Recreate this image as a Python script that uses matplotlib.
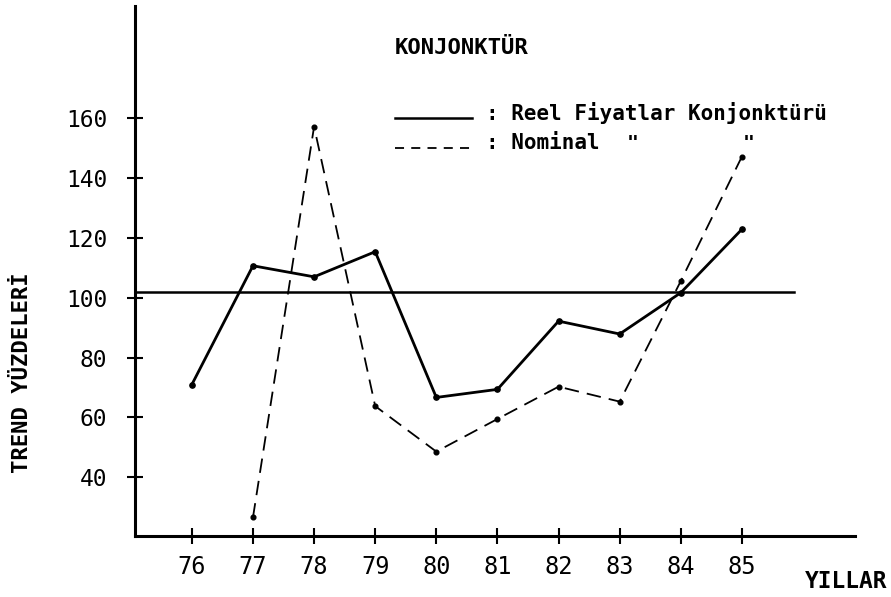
import matplotlib
matplotlib.use("Agg")
import matplotlib.pyplot as plt
from matplotlib.lines import Line2D

# ---- data ----
years_reel = [76, 77, 78, 79, 80, 81, 82, 83, 84, 85]
reel = [71, 110.7, 107, 115.4, 66.7, 69.4, 92.2, 87.9, 101.7, 122.9]
years_nom = [77, 78, 79, 80, 81, 82, 83, 84, 85]
nominal = [26.6, 157.2, 63.8, 48.6, 59.5, 70.3, 65.3, 105.6, 147.2]
x_ticks = [76, 77, 78, 79, 80, 81, 82, 83, 84, 85]
y_ticks = [40, 60, 80, 100, 120, 140, 160]
trend_level = 101.8

title = "KONJONKTÜR"
ylabel = "TREND YÜZDELERİ"
xlabel = "YILLAR"
leg1 = ": Reel Fiyatlar Konjonktürü"
leg2 = ": Nominal"

W, H = 891, 597
fig = plt.figure(figsize=(W / 100, H / 100), dpi=100)
fig.patch.set_facecolor("white")

def fx(px):
    return px / W

def fy(py):
    return 1 - py / H

ax = fig.add_axes([fx(135), fy(536), fx(855) - fx(135), fy(6) - fy(536)])
ax.set_xlim(75.07, 86.85)
ax.set_ylim(20.4, 197.5)

mono = "DejaVu Sans Mono"

for s in ["top", "right"]:
    ax.spines[s].set_visible(False)
for s in ["left", "bottom"]:
    ax.spines[s].set_linewidth(2.2)
    ax.spines[s].set_color("black")

ax.set_xticks(x_ticks)
ax.set_xticklabels([str(v) for v in x_ticks], fontsize=17, family=mono)
ax.set_yticks(y_ticks)
ax.set_yticklabels([str(v) for v in y_ticks], fontsize=16.5, family=mono)
ax.tick_params(axis="y", direction="inout", length=12, width=1.5, pad=14)
ax.tick_params(axis="x", direction="inout", length=12, width=1.5, pad=8)

# trend reference line
ax.axhline(trend_level, xmin=0, xmax=(794 - 135) / (855 - 135), color="black", lw=1.8)

# series
ax.plot(years_reel, reel, color="black", lw=2.0, marker="o", markersize=3.8)
ax.plot(years_nom, nominal, color="black", lw=1.3, linestyle=(0, (8, 4.5)),
        marker="o", markersize=3.4)

# title
fig.text(fx(462), fy(48), title, fontsize=16, family=mono, fontweight="bold",
         ha="center", va="center")

# legend (hand drawn style)
fig.add_artist(Line2D([fx(395), fx(472)], [fy(118), fy(118)], color="black", lw=1.8,
                      transform=fig.transFigure))
fig.add_artist(Line2D([fx(395), fx(472)], [fy(148), fy(148)], color="black", lw=1.3,
                      linestyle=(0, (5, 4)), transform=fig.transFigure))
fig.text(fx(486), fy(113), leg1, fontsize=15, family=mono, fontweight="bold",
         ha="left", va="center")
fig.text(fx(486), fy(143), leg2, fontsize=15, family=mono, fontweight="bold",
         ha="left", va="center")
fig.text(fx(633), fy(143), '"', fontsize=14, family=mono, fontweight="bold",
         ha="center", va="center")
fig.text(fx(749), fy(143), '"', fontsize=14, family=mono, fontweight="bold",
         ha="center", va="center")

# axis labels
fig.text(fx(22), fy(373), ylabel, fontsize=16, family=mono, fontweight="bold",
         rotation=90, ha="center", va="center")
fig.text(fx(887), fy(582), xlabel, fontsize=16.5, family=mono, fontweight="bold",
         ha="right", va="center")

fig.savefig("out.png", dpi=100, facecolor="white")
